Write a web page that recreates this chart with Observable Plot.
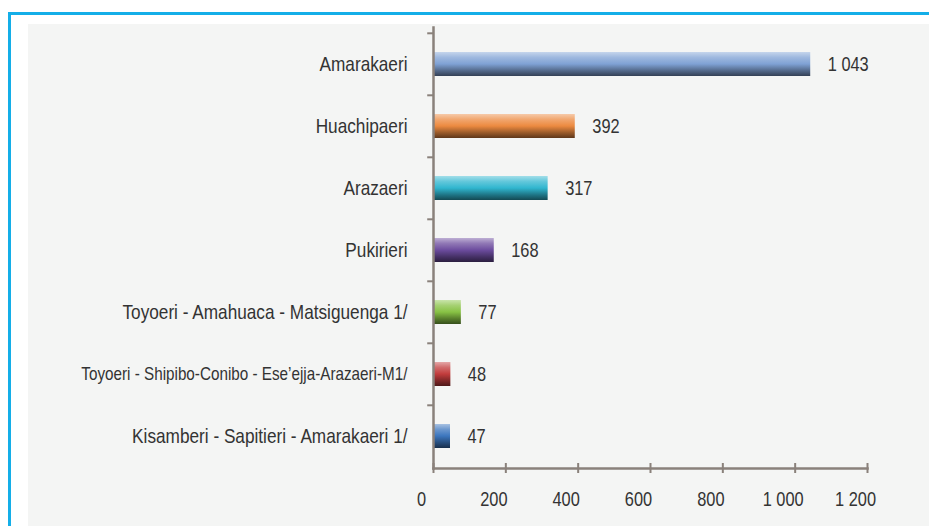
<!DOCTYPE html>
<html><head><meta charset="utf-8">
<script src="https://cdn.jsdelivr.net/npm/d3@7"></script>
<script src="https://cdn.jsdelivr.net/npm/@observablehq/plot@0.6"></script>
<style>
body{margin:0;background:#fff;}
#wrap{position:relative;width:929px;height:526px;overflow:hidden;}
#panel{position:absolute;left:28px;top:24px;right:0;bottom:0;background:#f4f5f4;}
#bt{position:absolute;left:8px;top:12px;right:0;height:3px;background:#14aee8;}
#bl{position:absolute;left:8px;top:12px;bottom:0;width:3px;background:#14aee8;}
#chart{position:absolute;left:0;top:0;}
</style></head><body>
<div id="wrap"><div id="panel"></div><div id="bt"></div><div id="bl"></div><div id="chart"></div></div>
<script>
// ---- data ----
const categories = [
  "Amarakaeri",
  "Huachipaeri",
  "Arazaeri",
  "Pukirieri",
  "Toyoeri - Amahuaca - Matsiguenga 1/",
  "Toyoeri - Shipibo-Conibo - Ese\u2019ejja-Arazaeri-M1/",
  "Kisamberi - Sapitieri - Amarakaeri 1/"
];
const values = [1043, 392, 317, 168, 77, 48, 47];
const xTicks = [0, 200, 400, 600, 800, 1000, 1200];

// ---- styles ----
const palette = ["#7fa1d4", "#ec8a40", "#30b6cf", "#6c4c9e", "#88c244", "#c23c3c", "#3c76be"];
const fontFam = "'Liberation Sans', Arial, sans-serif";
const textColor = "#333333";
const axisColor = "#8a817b";

const fmt = d3.formatLocale({decimal: ",", thousands: " ", grouping: [3], currency: ["", ""]}).format(",d");
const rows = categories.map((c, i) => ({cat: c, value: values[i], grad: `url(#grad${i})`}));

const plot = Plot.plot({
  width: 929,
  height: 526,
  marginTop: 31,
  marginBottom: 58,
  marginLeft: 433,
  marginRight: 62,
  style: {background: "transparent", fontFamily: fontFam, color: textColor},
  x: {domain: [0, 1200], axis: null},
  y: {domain: categories, axis: null, paddingInner: 0.615, paddingOuter: 0.3075},
  color: {type: "identity"},
  marks: [
    Plot.barX(rows, {x: "value", y: "cat", fill: "grad"}),
    Plot.frame({anchor: "left", stroke: axisColor, strokeWidth: 2.5, insetTop: -4}),
    Plot.frame({anchor: "bottom", stroke: axisColor, strokeWidth: 2.5}),
    Plot.ruleY(rows, {y: "cat", x1: d => -16, x2: d => 0, dy: -31.2, stroke: axisColor, strokeWidth: 2}),
    Plot.tickX(xTicks, {x: d => d, insetTop: 432, insetBottom: -5, stroke: axisColor, strokeWidth: 2}),
    Plot.text(xTicks, {x: d => d, frameAnchor: "bottom", dy: 37, dx: -12, text: d => fmt(d), fontSize: 20, fill: textColor}),
    Plot.text(rows, {x: d => 0, y: "cat", text: "cat", textAnchor: "end", dx: -26,
      fontSize: d => d.cat.length > 40 ? 18.6 : 21, fill: textColor}),
    Plot.text(rows, {x: "value", y: "cat", text: d => fmt(d.value), textAnchor: "start", dx: 17, fontSize: 20, fill: textColor})
  ]
});

// gradients for the cylinder look
const defs = d3.select(plot).insert("defs", ":first-child");
palette.forEach((c, i) => {
  const g = defs.append("linearGradient").attr("id", `grad${i}`)
    .attr("x1", 0).attr("y1", 0).attr("x2", 0).attr("y2", 1);
  const stops = [
    [0, d3.interpolateRgb(c, "#ffffff")(0.55)],
    [0.22, d3.interpolateRgb(c, "#ffffff")(0.25)],
    [0.5, c],
    [0.78, d3.interpolateRgb(c, "#000000")(0.35)],
    [1, d3.interpolateRgb(c, "#000000")(0.6)]
  ];
  stops.forEach(([o, col]) => g.append("stop").attr("offset", o).attr("stop-color", col));
});

document.getElementById("chart").appendChild(plot);

// narrow the type (Arial Narrow look): condense each label horizontally about its anchor
d3.select(plot).selectAll("text").each(function() {
  const t = this.getAttribute("transform") || "";
  this.setAttribute("transform", (t + " scale(0.82,1)").trim());
});
</script>
</body></html>
